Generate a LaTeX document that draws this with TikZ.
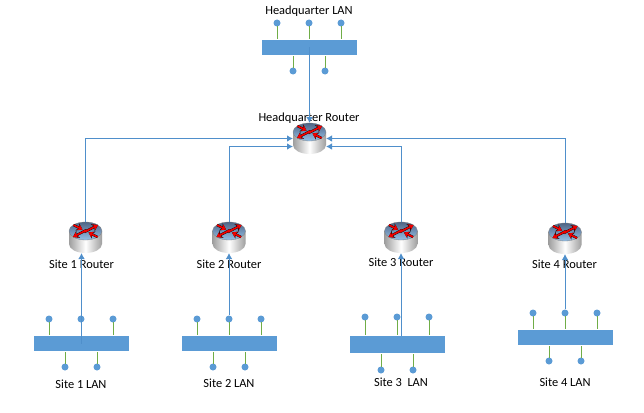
\documentclass[tikz,border=0pt]{standalone}
\usepackage{fontspec}
\setmainfont{Carlito}
\usetikzlibrary{arrows.meta}
\definecolor{lanblue}{HTML}{5B9BD5}
\definecolor{linkblue}{HTML}{4F8FCB}
\definecolor{stem}{HTML}{70AD47}
\definecolor{rtop}{HTML}{4F6585}
\definecolor{rlow}{HTML}{95C0E8}
\tikzset{x=1pt,y=-1pt,
  lanbar/.style={fill=lanblue,draw=none,inner sep=0pt,outer sep=0pt},
  landot/.style={circle,fill=lanblue,draw=none,minimum size=7pt,inner sep=0pt},
  stemline/.style={draw=stem,line width=1pt},
  link/.style={draw=linkblue,line width=1pt,-{Latex[length=6pt,width=6.5pt]}},
  lbl/.style={font=\fontsize{12.4}{14}\selectfont,text=black,inner sep=0pt},
  routerbox/.style={minimum width=33pt,minimum height=31pt,inner sep=0pt,outer sep=0pt,draw=none},
  redarrow/.style={draw=red!95!black,line width=1.7pt,-{Stealth[length=5pt,width=6.5pt]}},
  blackarrow/.style={draw=black,line width=2.4pt,-{Stealth[length=5.8pt,width=7.8pt]}}
}
% #1 name, #2 left x, #3 bar top y, #4 bar height, #5 top dot y, #6 bottom dot y
\newcommand{\lanunit}[6]{%
  \node[lanbar,minimum width=95pt,minimum height=#4 pt] (#1) at (#2+47.5,#3+#4/2) {};
  \foreach \dx/\t in {15/a,47/b,79/c}{
    \node[landot] (#1\t) at (#2+\dx,#5) {};
    \draw[stemline] (#2+\dx+0.6,#5+3) -- (#2+\dx+0.6,#3-1);
  }
  \foreach \dx/\t in {31/d,63/e}{
    \node[landot] (#1\t) at (#2+\dx,#6) {};
    \draw[stemline] (#2+\dx+0.6,#6-3) -- (#2+\dx+0.6,#3+#4+1);
  }
}
\newcommand{\routerunit}[3]{%
  \node[routerbox] (#1) at (#2,#3) {};
  \begin{scope}[shift={(#2,#3)},yscale=-1]
    \shade[left color=black!38,right color=black!38,middle color=white]
      (-16.5,6.5) -- (-16.5,-6.5) arc[x radius=16.5,y radius=9,start angle=180,end angle=360] -- (16.5,6.5) -- cycle;
    \shade[top color=rtop,bottom color=rlow,draw=black!50,line width=0.3pt]
      (0,6.5) ellipse[x radius=16.5,y radius=9];
    \foreach \sx/\sy/\ex/\ey in {-1/5.5/12.5/12.5,1/7.5/-12.5/0.5,-12/12.5/-3/8,12/0.5/3/5}{
      \draw[blackarrow] (\sx,\sy) -- (\ex,\ey);
    }
    \foreach \sx/\sy/\ex/\ey in {-1/5.5/12.5/12.5,1/7.5/-12.5/0.5,-12/12.5/-3/8,12/0.5/3/5}{
      \draw[redarrow] (\sx,\sy) -- (\ex,\ey);
    }
  \end{scope}
}
\begin{document}
\begin{tikzpicture}
\useasboundingbox (0,0) rectangle (644,412);
\fill[white] (0,0) rectangle (644,412);
\lanunit{hq}{262}{40}{15}{23}{71}
\lanunit{lanone}{34}{336}{15}{319}{367}
\lanunit{lantwo}{182}{336}{15}{319}{367}
\lanunit{lanthree}{350}{336}{17}{317}{370}
\lanunit{lanfour}{518}{330}{15}{313}{361}
\routerunit{rhq}{309.5}{138.5}
\routerunit{rone}{85.5}{237.5}
\routerunit{rtwo}{229}{237.5}
\routerunit{rthree}{401}{237.5}
\routerunit{rfour}{565}{238.5}
\node[lbl] (thq) at (309,11) {Headquarter LAN};
\node[lbl] (trhq) at (309,118) {Headquarter Router};
\node[lbl] (trone) at (81.5,264) {Site 1 Router};
\node[lbl] (trtwo) at (229,264) {Site 2 Router};
\node[lbl] (trthree) at (401,262) {Site 3 Router};
\node[lbl] (trfour) at (564.5,264) {Site 4 Router};
\node[lbl] (tlone) at (81,384) {Site 1 LAN};
\node[lbl] (tltwo) at (229,383) {Site 2 LAN};
\node[lbl] (tlthree) at (401,382) {Site 3\ \ LAN};
\node[lbl] (tlfour) at (565,382) {Site 4 LAN};
\draw[link] (hq.center) -- (hq.center |- rhq.north);
\draw[link] (rone.north) |- (rhq.west);
\draw[link] (rtwo.north) |- ([yshift=-8pt]rhq.west);
\draw[link] (rthree.north) |- ([yshift=-8pt]rhq.east);
\draw[link] (rfour.north) |- (rhq.east);
\draw[link] (lanone.center) -- (lanone.center |- rone.south);
\draw[link] (lantwob) -- (lantwob |- rtwo.south);
\draw[link] (lanthree.north -| rthree.south) -- (rthree.south);
\draw[link] (lanfourb) -- (lanfourb |- rfour.south);
\end{tikzpicture}
\end{document}
